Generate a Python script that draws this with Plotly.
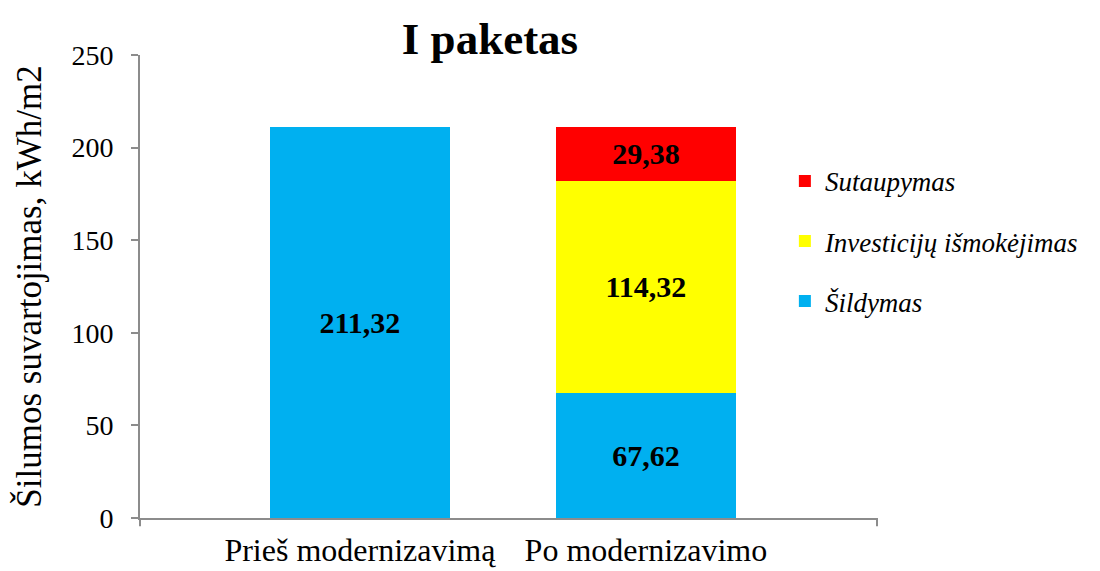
import plotly.graph_objects as go

categories = ["Prieš modernizavimą", "Po modernizavimo"]
sildymas = [211.32, 67.62]
investiciju = [None, 114.32]
sutaupymas = [None, 29.38]
y_ticks = [0, 50, 100, 150, 200, 250]

def lab(vals):
    return ["" if v is None else f"{v:.2f}".replace(".", ",") for v in vals]

serif = "Liberation Serif"
xpos = [0, 1]

W, H = 1092, 563  # page body has an 8px margin

fig = go.Figure()
series = [
    ("Šildymas", sildymas, "#00B0F0", 3),
    ("Investicijų išmokėjimas", investiciju, "#FFFF00", 2),
    ("Sutaupymas", sutaupymas, "#FF0000", 1),
]
for name, vals, col, rank in series:
    fig.add_trace(go.Bar(
        x=xpos, y=vals, name=name, marker=dict(color=col, line=dict(width=0)),
        width=0.63, text=lab(vals), textposition="inside", insidetextanchor="middle",
        textangle=0, constraintext="none",
        textfont=dict(family=serif, size=30, color="black", weight="bold"),
        legendgroup=name, legendrank=rank,
    ))

fig.update_layout(
    barmode="stack",
    width=W, height=H,
    margin=dict(l=132, r=223, t=47, b=53, autoexpand=False),
    plot_bgcolor="white", paper_bgcolor="white",
    font=dict(family=serif, color="black"),
    title=dict(text="<b>I paketas</b>", x=(490-8)/W, xanchor="center",
               y=1-(38-8)/H, yanchor="middle", font=dict(family=serif, size=45, color="black")),
    legend=dict(x=0.875, y=0.78, xanchor="left", yanchor="top",
                traceorder="grouped", tracegroupgap=22,
                font=dict(family=serif, size=27, style="italic", color="black"),
                bgcolor="rgba(0,0,0,0)", itemwidth=30),
    showlegend=True,
)
fig.update_xaxes(
    range=[-0.769, 1.808], tickmode="array", tickvals=xpos, ticktext=categories,
    showline=True, linecolor="#8c8c8c", linewidth=2, ticks="", showgrid=False,
    tickfont=dict(family=serif, size=32, color="black"), zeroline=False,
    ticklabelstandoff=3, automargin=False,
)
fig.update_yaxes(
    range=[0, 250], tickmode="array", tickvals=y_ticks,
    showline=True, linecolor="#8c8c8c", linewidth=2, ticks="outside", ticklen=7,
    tickcolor="#8c8c8c", tickwidth=2, showgrid=False, zeroline=False,
    tickfont=dict(family=serif, size=28, color="black"), ticklabelstandoff=12,
    automargin=False,
    title=dict(text="Šilumos suvartojimas, kWh/m2", font=dict(family=serif, size=35, color="black"), standoff=19),
)
# tick marks at both ends of the category axis
fig.add_shape(type="line", xref="x domain", yref="y domain", x0=1, x1=1, y0=0, y1=-0.018,
              line=dict(color="#8c8c8c", width=2))
fig.add_shape(type="line", xref="x domain", yref="y domain", x0=0, x1=0, y0=0, y1=-0.018,
              line=dict(color="#8c8c8c", width=2))

fig.write_html("out.html")
